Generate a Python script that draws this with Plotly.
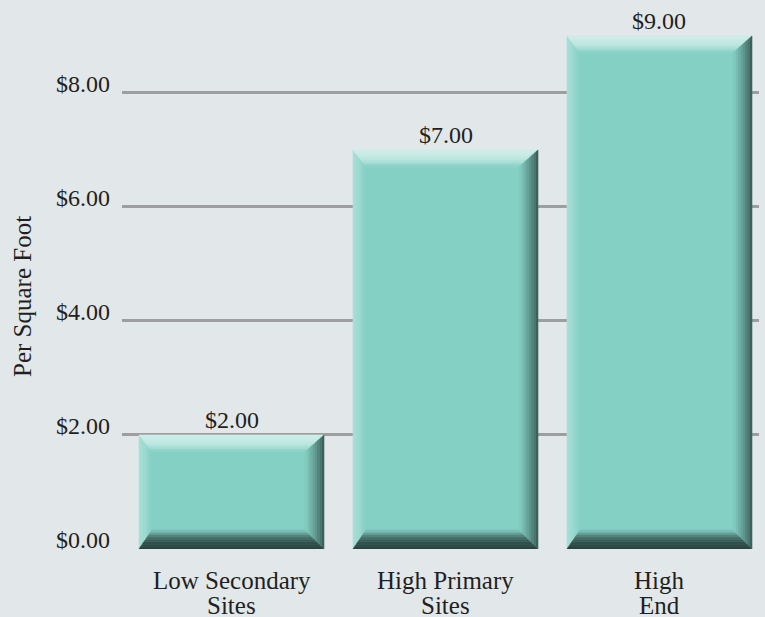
import plotly.graph_objects as go

# ---- data ----
categories = ["Low Secondary<br>Sites", "High Primary<br>Sites", "High<br>End"]
values = [2.0, 7.0, 9.0]
y_ticks = [0, 2, 4, 6, 8]
y_tick_text = ["$%.2f" % v for v in y_ticks]
y_title = "Per Square Foot"

# ---- style / layout constants ----
W, H = 765, 617
ML, MR, MT, MB = 122, 6, 0, 68
X_RANGE = [-0.5117, 2.465]
Y_RANGE = [0, 9.63]
BAR_WIDTH = 0.8645
BG = "#e2e7ea"
MAIN = "#84d0c4"
FONT = "Liberation Serif, Times New Roman, serif"
TXT = "#231f20"

plot_w = W - ML - MR
plot_h = H - MT - MB
ux = (X_RANGE[1] - X_RANGE[0]) / plot_w   # data units per pixel (x)
uy = (Y_RANGE[1] - Y_RANGE[0]) / plot_h   # data units per pixel (y)

xs = list(range(len(categories)))

fig = go.Figure()
fig.add_trace(go.Bar(
    x=xs, y=values, width=BAR_WIDTH,
    marker=dict(color=MAIN, line=dict(width=0)),
    hoverinfo="skip", cliponaxis=False,
))


def hex2rgb(h):
    h = h.lstrip("#")
    return tuple(int(h[i:i + 2], 16) for i in (0, 2, 4))


def lerp(c1, c2, t):
    a, b = hex2rgb(c1), hex2rgb(c2)
    return "rgb(%d,%d,%d)" % tuple(round(a[i] + (b[i] - a[i]) * t) for i in range(3))


# bevel: side -> (thickness px, outer colour, gamma)
bevel = {
    "top": (17, "#cdede7", 2.4),
    "left": (13, "#a9dfd6", 1.5),
    "right": (19, "#365350", 0.8),
    "bottom": (19, "#2b4542", 2.2),
}
N = 8
shapes = []
for x, v in zip(xs, values):
    L = x - BAR_WIDTH / 2
    R = x + BAR_WIDTH / 2
    T = v
    B = 0.0
    tt, tl, tr, tb = (bevel["top"][0] * uy, bevel["left"][0] * ux,
                      bevel["right"][0] * ux, bevel["bottom"][0] * uy)

    def rect(f):
        return (L + f * tl, R - f * tr, T - f * tt, B + f * tb)

    for k in range(N):
        f0, f1 = k / N, (k + 1) / N
        l0, r0, t0, b0 = rect(f0)
        l1, r1, t1, b1 = rect(f1)
        polys = {
            "top": [(l0, t0), (r0, t0), (r1, t1), (l1, t1)],
            "bottom": [(l0, b0), (r0, b0), (r1, b1), (l1, b1)],
            "left": [(l0, t0), (l1, t1), (l1, b1), (l0, b0)],
            "right": [(r0, t0), (r1, t1), (r1, b1), (r0, b0)],
        }
        for side in ["left", "top", "bottom", "right"]:
            th, col, g = bevel[side]
            t = ((k + 0.5) / N) ** g
            c = lerp(col, MAIN, t)
            pts = polys[side]
            path = "M " + " L ".join("%.5f,%.5f" % p for p in pts) + " Z"
            shapes.append(dict(type="path", xref="x", yref="y", path=path,
                               fillcolor=c, line=dict(width=0.6, color=c),
                               layer="above"))

annotations = []
# value labels
for x, v in zip(xs, values):
    annotations.append(dict(
        x=x, y=v, xref="x", yref="y", text="$%.2f" % v, showarrow=False,
        yanchor="bottom", yshift=0, font=dict(family=FONT, size=24, color=TXT)))
# category labels (two lines each, tight spacing)
for x, c in zip(xs, categories):
    lines = c.split("<br>")
    for j, ln in enumerate(lines):
        annotations.append(dict(
            x=x, y=0, xref="x", yref="paper", text=ln, showarrow=False,
            yanchor="middle", yshift=-31 - 25 * j,
            font=dict(family=FONT, size=25, color=TXT)))
# y title
annotations.append(dict(
    x=0, y=(plot_h - (297 - MT)) / plot_h, xref="paper", yref="paper",
    xanchor="center", yanchor="middle",
    xshift=-(ML - 23), text=y_title, textangle=-90, showarrow=False,
    font=dict(family=FONT, size=25, color=TXT)))

fig.update_layout(
    width=W, height=H,
    margin=dict(l=ML, r=MR, t=MT, b=MB, pad=0),
    paper_bgcolor=BG, plot_bgcolor=BG,
    showlegend=False,
    font=dict(family=FONT, size=24, color=TXT),
    xaxis=dict(range=X_RANGE, showgrid=False, zeroline=False, showticklabels=False,
               showline=False, ticks="", fixedrange=True),
    yaxis=dict(range=Y_RANGE, tickmode="array", tickvals=y_ticks, ticktext=y_tick_text,
               showgrid=True, gridcolor="#9c9ea0", gridwidth=2.5,
               zeroline=False, showline=False, ticks="",
               ticklabelstandoff=11, ticklabelshift=-9,
               tickfont=dict(family=FONT, size=24, color=TXT), fixedrange=True),
    shapes=shapes,
    annotations=annotations,
    bargap=0,
)

fig.write_html("out.html", config={"displayModeBar": False},
               post_script="document.body.style.margin='0';document.body.style.padding='0';")
